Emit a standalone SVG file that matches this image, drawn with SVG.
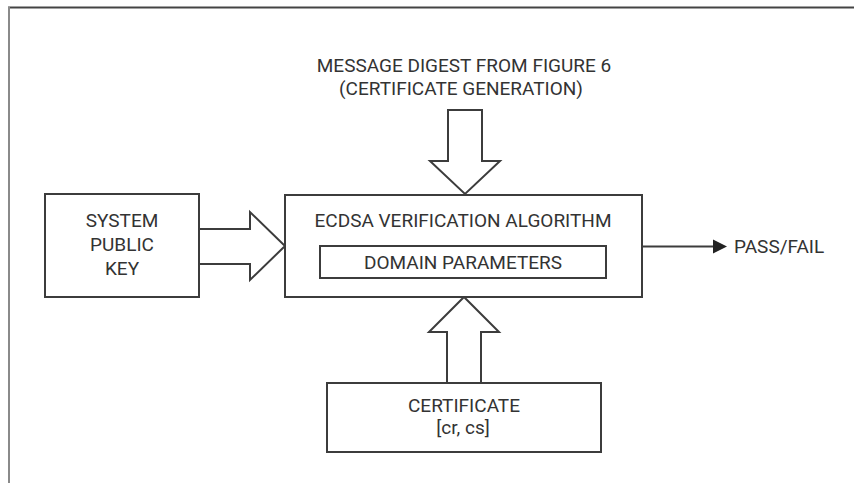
<svg xmlns="http://www.w3.org/2000/svg" width="854" height="483" viewBox="0 0 854 483">
  <style>
    .box { fill: #ffffff; stroke: #3c3c3c; stroke-width: 2; }
    .fat { fill: #ffffff; stroke: #3c3c3c; stroke-width: 2; stroke-linejoin: miter; }
    .ln { fill: none; stroke: #3c3c3c; stroke-width: 2; }
    .t { font-family: Roboto, "Open Sans", "Liberation Sans", sans-serif; font-size: 19px; fill: #333333; text-anchor: middle; }
  </style>
  <rect x="0" y="0" width="854" height="483" fill="#ffffff"/>
  <g id="frame">
    <line x1="8" y1="7.5" x2="854" y2="7.5" stroke="#444444" stroke-width="2"/>
    <line x1="9" y1="7" x2="9" y2="483" stroke="#8a8a8a" stroke-width="2"/>
  </g>
  <g id="connectors">
    <polygon class="fat" points="448,110 482,110 482,161 500,161 465,194 430,161 448,161"/>
    <polygon class="fat" points="447,383 447,332 429,332 464,297 499,332 481,332 481,383"/>
    <polygon class="fat" points="199,229 250,229 250,212 285,246 250,280 250,264 199,264"/>
    <line class="ln" x1="642" y1="246.5" x2="715" y2="246.5"/>
    <polygon points="713,239.5 727,246.5 713,253.5" fill="#222222"/>
  </g>
  <g id="input-label">
    <text class="t" x="464" y="72">MESSAGE DIGEST FROM FIGURE 6</text>
    <text class="t" x="461" y="95">(CERTIFICATE GENERATION)</text>
  </g>
  <g id="system-public-key">
    <rect class="box" x="45" y="194" width="154" height="103"/>
    <text class="t" x="122" y="227">SYSTEM</text>
    <text class="t" x="122" y="251">PUBLIC</text>
    <text class="t" x="122" y="275">KEY</text>
  </g>
  <g id="ecdsa">
    <rect class="box" x="285" y="195" width="357" height="102"/>
    <text class="t" x="463" y="227">ECDSA VERIFICATION ALGORITHM</text>
  </g>
  <g id="domain-parameters">
    <rect class="box" x="320" y="246" width="286" height="32"/>
    <text class="t" x="463" y="269">DOMAIN PARAMETERS</text>
  </g>
  <g id="certificate">
    <rect class="box" x="327" y="383" width="274" height="69"/>
    <text class="t" x="464" y="412">CERTIFICATE</text>
    <text class="t" x="463" y="434">[cr, cs]</text>
  </g>
  <g id="pass-fail">
    <text class="t" x="734" y="253" style="text-anchor:start">PASS/FAIL</text>
  </g>
</svg>
